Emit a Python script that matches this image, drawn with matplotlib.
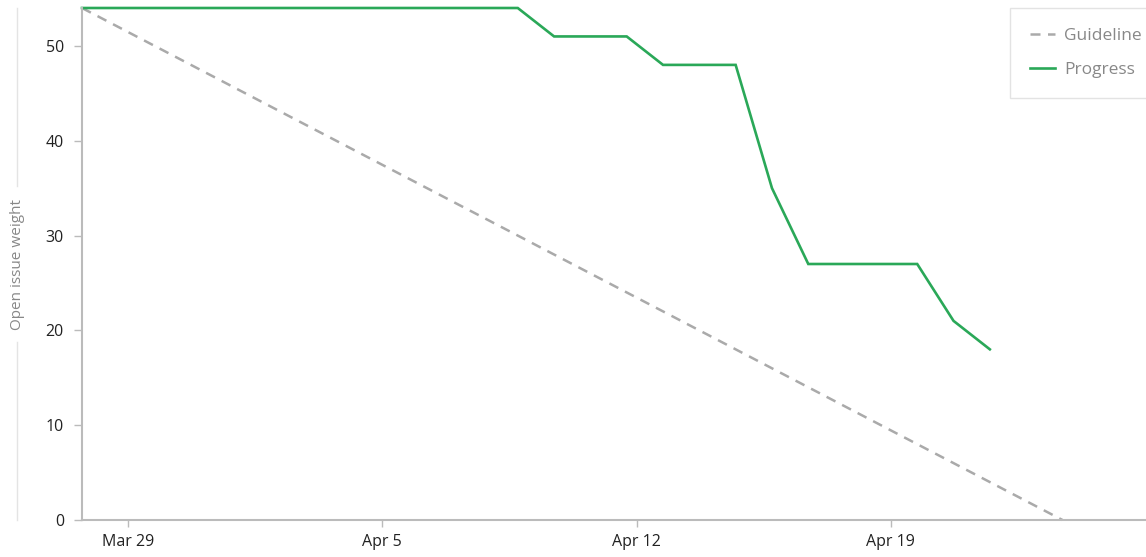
import pandas as pd
import numpy as np
import matplotlib
matplotlib.use('Agg')
import matplotlib.pyplot as plt
import matplotlib.dates as mdates
from matplotlib.lines import Line2D

plt.rcParams['font.family'] = ['Open Sans', 'DejaVu Sans']

# Burndown data (one point per day)
start = pd.Timestamp('2021-03-27 17:30')
dates = pd.date_range(start, periods=26, freq='D')
progress = [54, 54, 54, 54, 54, 54, 54, 54, 54, 54, 54, 54, 54,
            51, 51, 51, 48, 48, 48, 35, 27, 27, 27, 27, 21, 18]

# Guideline: from full weight to zero over the milestone
guide_dates = [start, start + pd.Timedelta(days=27)]
guide_values = [54, 0]

tick_dates = pd.to_datetime(['2021-03-29', '2021-04-05', '2021-04-12', '2021-04-19'])
tick_labels = ['Mar 29', 'Apr 5', 'Apr 12', 'Apr 19']

W, H = 1146, 557
fig = plt.figure(figsize=(W / 100, H / 100), dpi=100)
ax = fig.add_axes([82 / W, (H - 520) / H, (W - 82) / W, (520 - 8) / H])

ax.plot(guide_dates, guide_values, color='#aaaaaa', lw=1.8,
        dashes=(4, 3), label='Guideline', clip_on=False)
ax.plot(dates, progress, color='#2aa858', lw=1.9, label='Progress',
        clip_on=False, solid_joinstyle='miter')

ax.set_xlim(start, start + pd.Timedelta(days=29.3))
ax.set_ylim(0, 54)
ax.set_xticks(tick_dates)
ax.set_xticklabels(tick_labels)
ax.set_yticks([0, 10, 20, 30, 40, 50])

for side in ['top', 'right']:
    ax.spines[side].set_visible(False)
for side in ['left', 'bottom']:
    ax.spines[side].set_color('#bbbbbb')
    ax.spines[side].set_linewidth(1.5)

ax.tick_params(axis='y', length=6, width=1, color='#bbbbbb', labelsize=11.5,
               labelcolor='#222222', pad=7)
ax.tick_params(axis='x', length=5, width=1, color='#bbbbbb', labelsize=11.5,
               labelcolor='#222222', pad=5)

# y axis name with light rules, as in the original
fig.text(18 / W, 1 - 265 / H, 'Open issue weight', rotation=90,
         ha='center', va='center', color='#888888', fontsize=11)
fig.add_artist(Line2D([17 / W, 17 / W], [1 - 8 / H, 1 - 186 / H],
                      color='#e4e4e4', lw=1))
fig.add_artist(Line2D([17 / W, 17 / W], [1 - 342 / H, 1 - 520 / H],
                      color='#e4e4e4', lw=1))

leg = ax.legend(loc='upper left', bbox_to_anchor=(1010 / W, 1 - 8 / H),
                bbox_transform=fig.transFigure, frameon=True, fancybox=False,
                fontsize=12.5, handlelength=1.45, handletextpad=0.5,
                borderpad=1.15, labelspacing=1.0, borderaxespad=0)
leg.get_frame().set_edgecolor('#dddddd')
leg.get_frame().set_linewidth(1)
for t in leg.get_texts():
    t.set_color('#888888')

fig.savefig('out.png', dpi=100)
